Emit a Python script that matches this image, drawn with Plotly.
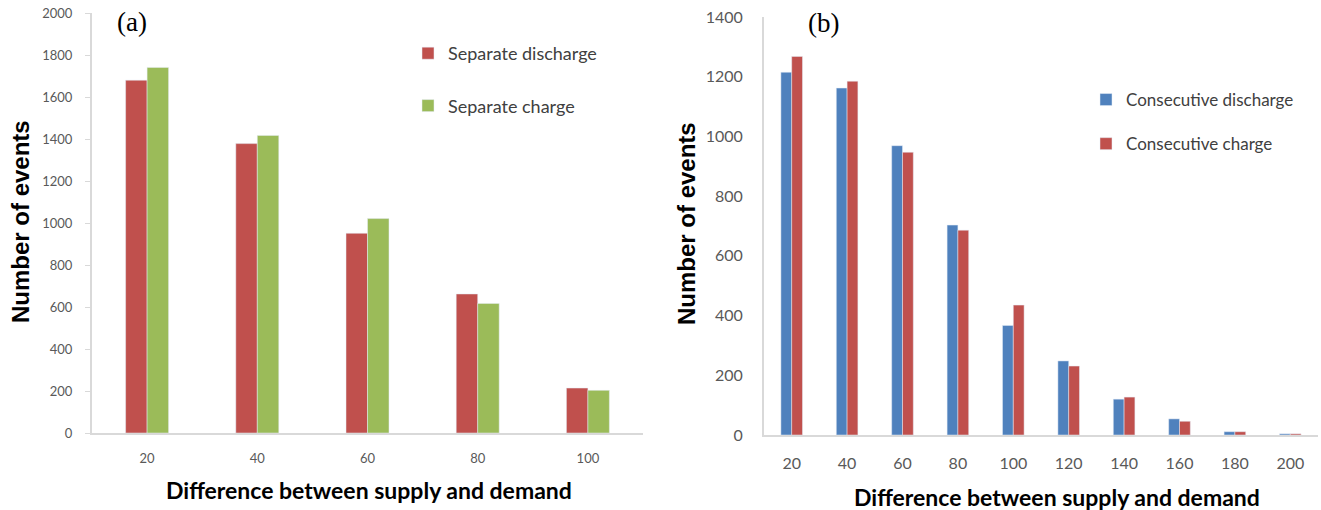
import plotly.graph_objects as go

cats_a = ["20", "40", "60", "80", "100"]
sep_discharge = [1680, 1378, 951, 662, 214]
sep_charge = [1741, 1417, 1021, 617, 203]

cats_b = ["20", "40", "60", "80", "100", "120", "140", "160", "180", "200"]
cons_discharge = [1215, 1162, 969, 703, 367, 248, 120, 54, 11, 4]
cons_charge = [1268, 1185, 947, 686, 435, 231, 127, 46, 11, 4]

RED = "#C0504D"
GREEN = "#9BBB59"
BLUE = "#4F81BD"
AX = "#D9D9D9"
TICK = "#595959"

W, H = 1321, 510
def px(x): return x / W
def py(y): return 1 - y / H

fig = go.Figure()
fig.add_trace(go.Bar(x=cats_a, y=sep_discharge, name="Separate discharge", marker_color=RED,
                     xaxis="x", yaxis="y", legend="legend", legendgroup="a1"))
fig.add_trace(go.Bar(x=cats_a, y=sep_charge, name="Separate charge", marker_color=GREEN,
                     xaxis="x", yaxis="y", legend="legend", legendgroup="a2"))
fig.add_trace(go.Bar(x=cats_b, y=cons_discharge, name="Consecutive discharge", marker_color=BLUE,
                     xaxis="x2", yaxis="y2", legend="legend2", legendgroup="b1"))
fig.add_trace(go.Bar(x=cats_b, y=cons_charge, name="Consecutive charge", marker_color=RED,
                     xaxis="x2", yaxis="y2", legend="legend2", legendgroup="b2"))

common_x = dict(type="category", showline=True, linecolor=AX, linewidth=2, ticks="",
                showgrid=False, zeroline=False, automargin=False)
common_y = dict(showline=True, linecolor=AX, linewidth=2,
                showgrid=False, zeroline=False, automargin=False)

fig.update_layout(
    width=W, height=H,
    margin=dict(l=0, r=0, t=0, b=0),
    paper_bgcolor="white", plot_bgcolor="white",
    barmode="group", bargap=0.61, bargroupgap=0,
    font=dict(family="Lato", color=TICK),
    xaxis=dict(domain=[px(92), px(643)], anchor="y", ticklabelstandoff=12,
               tickfont=dict(family="Lato", size=13, color=TICK), **common_x),
    yaxis=dict(domain=[py(433), py(13)], anchor="x", range=[0, 2000], dtick=200,
               ticks="outside", ticklen=5, tickcolor=AX, ticklabelstandoff=10,
               tickfont=dict(family="Lato", size=13, color=TICK), **common_y),
    xaxis2=dict(domain=[px(764), px(1318)], anchor="y2", ticklabelstandoff=13,
                tickfont=dict(family="Lato", size=16, color=TICK), **common_x),
    yaxis2=dict(domain=[py(435), py(17)], anchor="x2", range=[0, 1400], dtick=200,
                ticks="", ticklabelstandoff=16,
                tickfont=dict(family="Lato", size=16, color=TICK), **common_y),
    legend=dict(x=px(408), y=py(35), xanchor="left", yanchor="top",
                font=dict(family="Lato", size=18, color="#404040"),
                tracegroupgap=26, traceorder="grouped", bgcolor="rgba(0,0,0,0)",
                itemwidth=30),
    legend2=dict(x=px(1086), y=py(82), xanchor="left", yanchor="top",
                 font=dict(family="Lato", size=17, color="#404040"),
                 tracegroupgap=19, traceorder="grouped", bgcolor="rgba(0,0,0,0)",
                 itemwidth=30),
    showlegend=True,
    annotations=[
        dict(text="(a)", x=px(132), y=py(22), xref="paper", yref="paper", showarrow=False,
             xanchor="center", yanchor="middle",
             font=dict(family="Liberation Serif", size=27, color="black")),
        dict(text="(b)", x=px(823), y=py(23), xref="paper", yref="paper", showarrow=False,
             xanchor="center", yanchor="middle",
             font=dict(family="Liberation Serif", size=27, color="black")),
        dict(text="<b>Difference between supply and demand</b>", x=px(369), y=py(490),
             xref="paper", yref="paper", showarrow=False, xanchor="center", yanchor="middle",
             font=dict(family="Lato", size=23, color="black")),
        dict(text="<b>Difference between supply and demand</b>", x=px(1057), y=py(497),
             xref="paper", yref="paper", showarrow=False, xanchor="center", yanchor="middle",
             font=dict(family="Lato", size=23, color="black")),
        dict(text="<b>Number of events</b>", x=px(20), y=py(222), textangle=-90,
             xref="paper", yref="paper", showarrow=False, xanchor="center", yanchor="middle",
             font=dict(family="Liberation Sans", size=24, color="black")),
        dict(text="<b>Number of events</b>", x=px(686), y=py(224), textangle=-90,
             xref="paper", yref="paper", showarrow=False, xanchor="center", yanchor="middle",
             font=dict(family="Liberation Sans", size=24, color="black")),
    ],
)

fig.write_html("out.html")
